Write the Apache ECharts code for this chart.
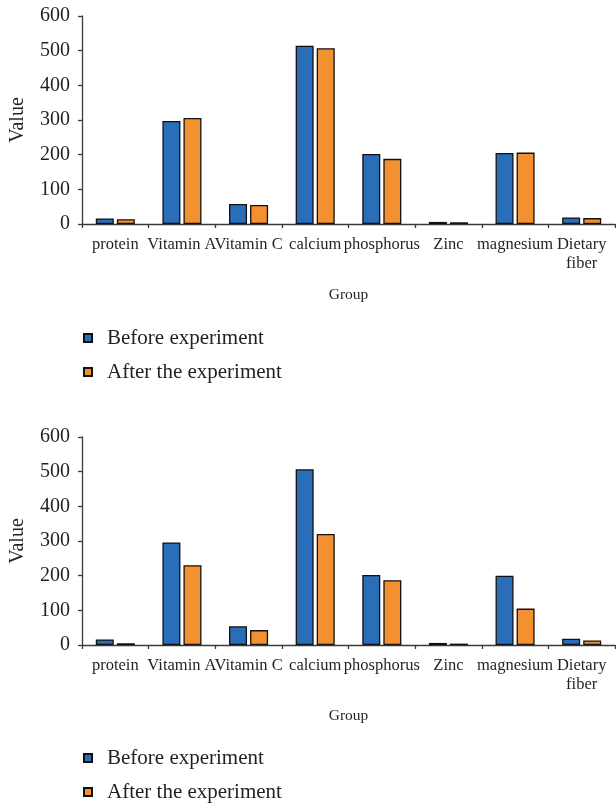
<!DOCTYPE html>
<html>
<head>
<meta charset="utf-8">
<style>
  html, body { margin: 0; padding: 0; background: #fff; }
  #chart { width: 616px; height: 805px; }
</style>
<script src="https://cdn.jsdelivr.net/npm/echarts@6/dist/echarts.min.js"></script>
</head>
<body>
<div id="chart"></div>
<script>
// Nutrient groups on the category axis
const categories = ['protein', 'Vitamin A', 'Vitamin C', 'calcium', 'phosphorus', 'Zinc', 'magnesium', 'Dietary fiber'];
const seriesNames = ['Before experiment', 'After the experiment'];
const yTicks = [0, 100, 200, 300, 400, 500, 600];

// Upper panel
const topBefore = [16, 297, 58, 514, 202, 6, 205, 19];
const topAfter  = [14, 306, 55, 507, 188, 5, 206, 17];

// Lower panel
const bottomBefore = [16, 296, 54, 507, 202, 6, 200, 18];
const bottomAfter  = [5, 230, 43, 320, 187, 4, 105, 13];

const FONT = '"Liberation Serif", "DejaVu Serif", serif';
const TEXT = '#231f20';
const AXIS = '#3a3a3a';
const BLUE = '#2a6db9';
const ORANGE = '#f39131';

const chart = echarts.init(document.getElementById('chart'), null, { renderer: 'canvas' });

function xAxisFor(gridIndex) {
  return {
    type: 'category',
    gridIndex: gridIndex,
    data: categories,
    name: 'Group',
    nameLocation: 'middle',
    nameGap: 63,
    nameTextStyle: { fontFamily: FONT, fontSize: 15.5, color: TEXT },
    axisLine: { lineStyle: { color: AXIS, width: 1.3 } },
    axisTick: { show: true, length: 4, alignWithLabel: false, lineStyle: { color: AXIS, width: 1.3 } },
    axisLabel: {
      interval: 0,
      margin: 11,
      fontFamily: FONT,
      fontSize: 16.5,
      color: TEXT,
      lineHeight: 19,
      formatter: v => v.replace('Dietary fiber', 'Dietary\nfiber')
    }
  };
}

function yAxisFor(gridIndex) {
  return {
    type: 'value',
    gridIndex: gridIndex,
    min: yTicks[0],
    max: yTicks[yTicks.length - 1],
    interval: yTicks[1] - yTicks[0],
    name: 'Value',
    nameLocation: 'middle',
    nameGap: 54,
    nameTextStyle: { fontFamily: FONT, fontSize: 20, color: TEXT },
    axisLine: { show: true, lineStyle: { color: AXIS, width: 1.3 } },
    axisTick: { show: true, length: 4, lineStyle: { color: AXIS, width: 1.3 } },
    splitLine: { show: false },
    axisLabel: { margin: 12, fontFamily: FONT, fontSize: 20, color: TEXT }
  };
}

function barSeries(name, data, color, idx) {
  return {
    name: name,
    type: 'bar',
    xAxisIndex: idx,
    yAxisIndex: idx,
    data: data,
    barWidth: 18,
    barGap: '17%',
    itemStyle: { color: color, borderColor: '#111', borderWidth: 1.3 },
    emphasis: { disabled: true }
  };
}

function legendAt(top) {
  return {
    orient: 'vertical',
    left: 83,
    top: top,
    padding: 0,
    itemWidth: 8,
    itemHeight: 8,
    itemGap: 12,
    icon: 'rect',
    selectedMode: false,
    data: seriesNames,
    textStyle: { fontFamily: FONT, fontSize: 21, color: TEXT, lineHeight: 22, padding: [0, 0, 0, 10] }
  };
}

chart.setOption({
  animation: false,
  backgroundColor: '#ffffff',
  grid: [
    { left: 82, top: 16, width: 533, height: 208, outerBoundsMode: 'none', containLabel: false },
    { left: 82, top: 437, width: 533, height: 208, outerBoundsMode: 'none', containLabel: false }
  ],
  xAxis: [xAxisFor(0), xAxisFor(1)],
  yAxis: [yAxisFor(0), yAxisFor(1)],
  legend: [legendAt(327), legendAt(747)],
  series: [
    barSeries(seriesNames[0], topBefore, BLUE, 0),
    barSeries(seriesNames[1], topAfter, ORANGE, 0),
    barSeries(seriesNames[0], bottomBefore, BLUE, 1),
    barSeries(seriesNames[1], bottomAfter, ORANGE, 1)
  ]
});
</script>
</body>
</html>
